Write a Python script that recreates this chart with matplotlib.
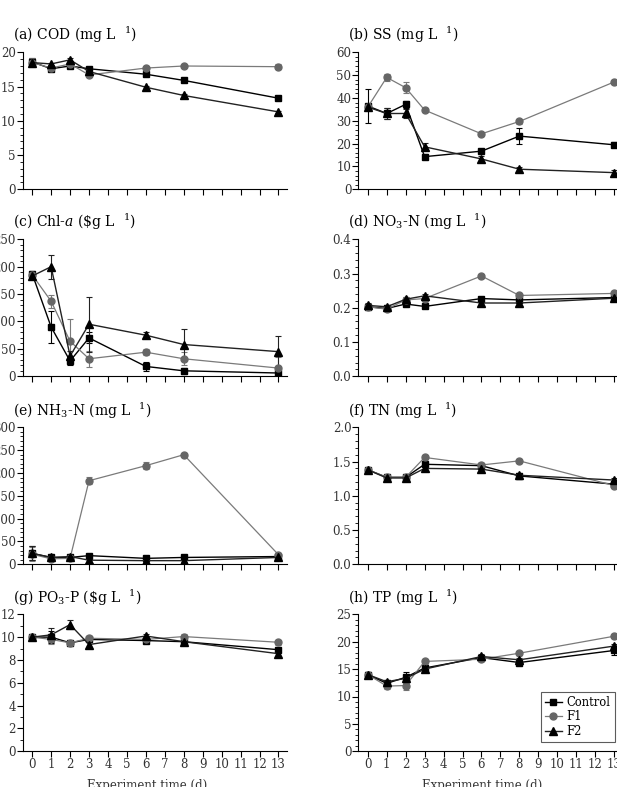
import matplotlib
matplotlib.use("Agg")
import matplotlib.pyplot as plt
from matplotlib.ticker import AutoMinorLocator, MultipleLocator

plt.rcParams['font.family'] = ['DejaVu Serif']
plt.rcParams['mathtext.fontset'] = 'dejavuserif'

# sampling days
days = [0, 1, 2, 3, 6, 8, 13]
series_names = ['Control', 'F1', 'F2']

# (a) COD
cod_ctrl = [18.6, 17.6, 18.0, 17.6, 16.8, 15.9, 13.3]
cod_f1 = [18.5, 17.7, 18.3, 16.7, 17.7, 18.0, 17.9]
cod_f2 = [18.5, 18.3, 18.9, 17.2, 14.9, 13.7, 11.3]
cod_err = [[0.6, 0.3, 0.2, 0.2, 0.2, 0.2, 0.2],
           [0.6, 0.2, 0.2, 0.3, 0.3, 0.2, 0.4],
           [0.5, 0.2, 0.2, 0.2, 0.2, 0.2, 0.2]]

# (b) SS
ss_ctrl = [36.5, 33.2, 37.2, 14.3, 16.7, 23.3, 19.5]
ss_f1 = [36.0, 49.0, 44.5, 34.7, 24.3, 29.7, 47.0]
ss_f2 = [36.0, 33.2, 33.2, 18.6, 13.3, 8.8, 7.3]
ss_err = [[7.3, 2.5, 1.5, 1.0, 1.0, 3.5, 1.0],
          [1.0, 1.5, 2.5, 1.0, 1.0, 1.0, 1.0],
          [1.0, 2.5, 2.0, 1.5, 1.5, 1.0, 1.0]]

# (c) Chl-a
chl_ctrl = [187, 90, 28, 70, 18, 10, 6]
chl_f1 = [185, 137, 64, 32, 44, 32, 15]
chl_f2 = [183, 200, 37, 95, 75, 58, 45]
chl_err = [[5, 30, 8, 10, 8, 5, 4],
           [5, 12, 40, 15, 6, 12, 20],
           [5, 22, 10, 50, 5, 28, 28]]

# (d) NO3-N
no3_ctrl = [0.203, 0.198, 0.211, 0.204, 0.227, 0.223, 0.230]
no3_f1 = [0.203, 0.196, 0.223, 0.227, 0.293, 0.236, 0.242]
no3_f2 = [0.207, 0.203, 0.225, 0.235, 0.214, 0.214, 0.228]
no3_err = [[0.005] * 7, [0.005] * 7, [0.006] * 7]

# (e) NH3-N
nh3_ctrl = [24, 15, 15, 19, 13, 15, 17]
nh3_f1 = [22, 12, 13, 183, 216, 240, 21]
nh3_f2 = [24, 15, 17, 9, 8, 8, 15]
nh3_err = [[15, 5, 4, 3, 3, 3, 3],
           [15, 3, 3, 8, 8, 3, 3],
           [15, 3, 3, 3, 3, 3, 3]]

# (f) TN
tn_ctrl = [1.38, 1.27, 1.27, 1.46, 1.44, 1.29, 1.17]
tn_f1 = [1.38, 1.27, 1.27, 1.56, 1.45, 1.51, 1.15]
tn_f2 = [1.38, 1.26, 1.26, 1.40, 1.39, 1.30, 1.23]
tn_err = [[0.03] * 7, [0.03] * 7, [0.03] * 7]

# (g) PO3-P
po3_ctrl = [10.0, 10.0, 9.5, 9.8, 9.7, 9.6, 8.9]
po3_f1 = [10.0, 9.8, 9.5, 9.9, 9.8, 10.05, 9.55]
po3_f2 = [10.0, 10.2, 11.1, 9.35, 10.1, 9.6, 8.55]
po3_err = [[0.2, 0.5, 0.2, 0.2, 0.2, 0.2, 0.2],
           [0.2, 0.4, 0.2, 0.2, 0.2, 0.2, 0.2],
           [0.2, 0.6, 0.4, 0.2, 0.2, 0.2, 0.2]]

# (h) TP
tp_ctrl = [14.0, 12.4, 13.5, 15.2, 17.1, 16.2, 18.4]
tp_f1 = [14.0, 11.9, 12.0, 16.4, 16.8, 17.9, 21.0]
tp_f2 = [14.0, 12.7, 13.3, 15.0, 17.3, 16.7, 19.2]
tp_err = [[0.4, 0.5, 1.0, 0.5, 0.4, 0.4, 0.8],
          [0.4, 0.5, 0.8, 0.4, 0.4, 0.4, 0.4],
          [0.4, 0.4, 0.4, 0.4, 0.4, 0.4, 0.4]]

panels = [
    (r"(a) COD (mg L  $^{1}$)", [cod_ctrl, cod_f1, cod_f2], cod_err, 20, 5, 5),
    (r"(b) SS (mg L  $^{1}$)", [ss_ctrl, ss_f1, ss_f2], ss_err, 60, 10, 5),
    (r"(c) Chl-$\mathit{a}$ (\$g L  $^{1}$)", [chl_ctrl, chl_f1, chl_f2], chl_err, 250, 50, 5),
    (r"(d) NO$_{3}$-N (mg L  $^{1}$)", [no3_ctrl, no3_f1, no3_f2], no3_err, 0.4, 0.1, 5),
    (r"(e) NH$_{3}$-N (mg L  $^{1}$)", [nh3_ctrl, nh3_f1, nh3_f2], nh3_err, 300, 50, 5),
    (r"(f) TN (mg L  $^{1}$)", [tn_ctrl, tn_f1, tn_f2], tn_err, 2.0, 0.5, 5),
    (r"(g) PO$_{3}$-P (\$g L  $^{1}$)", [po3_ctrl, po3_f1, po3_f2], po3_err, 12, 2, 2),
    (r"(h) TP (mg L  $^{1}$)", [tp_ctrl, tp_f1, tp_f2], tp_err, 25, 5, 5),
]

styles = [
    dict(color='black', marker='s', ms=4.5, lw=1.0, mfc='black', mec='black'),
    dict(color='#7a7a7a', marker='o', ms=5, lw=0.9, mfc='#666666', mec='#666666'),
    dict(color='#222222', marker='^', ms=6.2, lw=1.0, mfc='black', mec='black'),
]

W, H = 617, 787
fig = plt.figure(figsize=(W / 100, H / 100), dpi=100)

col_left = [22.7, 358.3]
ax_w = 264.3
row_top = [52.3, 239.3, 427.3, 614.3]
ax_h = 137.0
title_y = [35, 222, 411, 598]
title_x = [13, 348]

for i, (title, ys, errs, ymax, ystep, nminor) in enumerate(panels):
    r, c = divmod(i, 2)
    ax = fig.add_axes([col_left[c] / W, 1 - (row_top[r] + ax_h) / H, ax_w / W, ax_h / H])
    handles = []
    for y, e, st in zip(ys, errs, styles):
        h = ax.errorbar(days, y, yerr=e, capsize=2, elinewidth=0.8, capthick=0.8,
                        ecolor=st['color'], **st)
        handles.append(h[0])
    ax.set_xlim(-0.5, 13.45)
    ax.set_ylim(0, ymax)
    ax.set_xticks(range(14))
    ax.yaxis.set_major_locator(MultipleLocator(ystep))
    ax.yaxis.set_minor_locator(AutoMinorLocator(nminor))
    if ymax <= 2:
        ax.yaxis.set_major_formatter(plt.FormatStrFormatter('%.1f'))
    ax.spines['top'].set_visible(False)
    ax.spines['right'].set_visible(False)
    for s in ['left', 'bottom']:
        ax.spines[s].set_linewidth(0.8)
    ax.tick_params(which='major', direction='out', length=4, width=0.8, labelsize=8.5,
                   pad=1, labelcolor='#333333')
    ax.tick_params(which='minor', direction='out', length=2, width=0.6)
    if r < 3:
        ax.tick_params(axis='x', labelbottom=False)
    fig.text(title_x[c] / W, 1 - title_y[r] / H, title, fontsize=10, va='center', ha='left')
    if r == 3:
        fig.text((col_left[c] + ax_w / 2 - 8) / W, 1 - 786 / H, 'Experiment time (d)',
                 fontsize=8.5, ha='center', va='center', color='#333333')
    if i == 7:
        leg = ax.legend(handles, series_names, loc='lower left', fontsize=8.3,
                        frameon=True, fancybox=False, edgecolor='#333333',
                        handlelength=1.5, borderpad=0.35, labelspacing=0.15,
                        handletextpad=0.4, borderaxespad=0,
                        bbox_to_anchor=(0.69, 0.066))
        leg.get_frame().set_linewidth(0.8)

fig.savefig('out.png', dpi=100)
